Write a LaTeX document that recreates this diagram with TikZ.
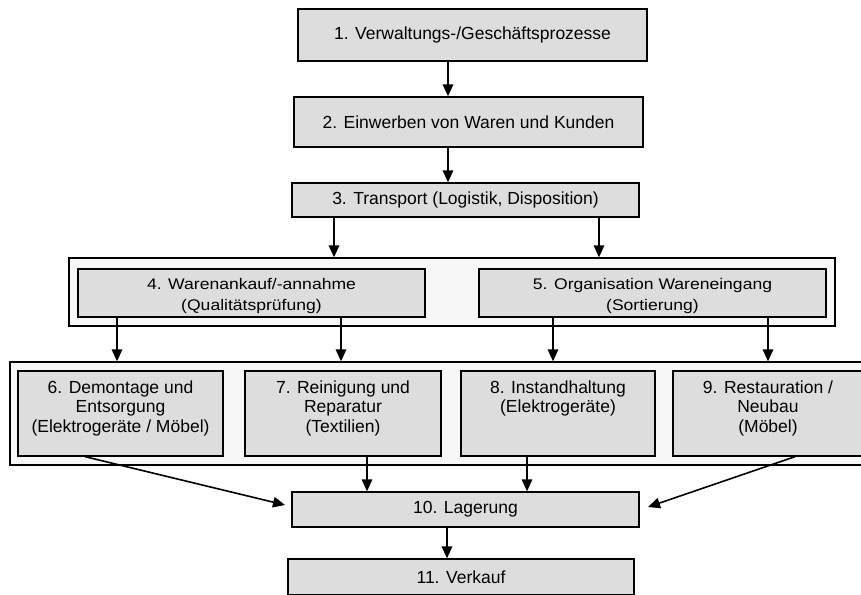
\documentclass[tikz,border=0pt]{standalone}
\usepackage{fontspec}
\setmainfont{Liberation Sans}
\newfontfamily\widesf[FakeStretch=1.14]{Liberation Sans}
\usetikzlibrary{arrows.meta}
\definecolor{boxfill}{HTML}{DDDDDD}
\definecolor{grpfill}{HTML}{F7F7F7}
\begin{document}
\begin{tikzpicture}[x=1pt,y=-1pt,
  box/.style={draw=black, line width=1.3pt, fill=boxfill, rectangle, inner sep=0pt,
    font=\fontsize{17.5}{19.5}\selectfont},
  grp/.style={draw=black, line width=1.3pt, fill=grpfill, rectangle, inner sep=0pt},
  bigtxt/.style={inner sep=0pt, align=center, anchor=north, font=\fontsize{17.5}{19.5}\selectfont},
  midtxt/.style={inner sep=0pt, align=center, anchor=north, font=\widesf\fontsize{15.4}{21}\selectfont},
  arr/.style={line width=1.6pt, -{Triangle[width=10.5pt,length=12pt]}}]
\useasboundingbox (0,0) rectangle (861,594);

% top chain
\node[box, minimum width=349pt, minimum height=52pt] (b1) at (472.5,35) {1. Verwaltungs-/Geschäftsprozesse};
\node[box, minimum width=349pt, minimum height=50pt] (b2) at (468.5,122) {2. Einwerben von Waren und Kunden};
\node[box, minimum width=347pt, minimum height=34pt] (b3) at (465.5,200) {3. Transport (Logistik, Disposition)};

% group 1
\node[grp, minimum width=766pt, minimum height=68pt] (g1) at (452,292) {};
\node[box, minimum width=347pt, minimum height=48pt] (b4) at (251.5,293) {};
\node[box, minimum width=347pt, minimum height=48pt] (b5) at (652.5,293) {};
\begin{scope}
  \clip ([xshift=0.65pt,yshift=4.5pt]b4.south west) rectangle ([xshift=-0.65pt,yshift=-0.65pt]b4.north east);
  \node[midtxt] (t4) at ([yshift=-10pt]b4.north) {4. Warenankauf/-annahme\\(Qualitätsprüfung)};
\end{scope}
\begin{scope}
  \clip ([xshift=0.65pt,yshift=4.5pt]b5.south west) rectangle ([xshift=-0.65pt,yshift=-0.65pt]b5.north east);
  \node[midtxt] (t5) at ([yshift=-10pt]b5.north) {5. Organisation Wareneingang\\(Sortierung)};
\end{scope}

% group 2
\node[grp, minimum width=861pt, minimum height=103pt] (g2) at (440.5,413.5) {};
\node[box, minimum width=205pt, minimum height=85pt] (b6) at (120.5,413.5) {};
\node[box, minimum width=196pt, minimum height=85pt] (b7) at (343,413.5) {};
\node[box, minimum width=194pt, minimum height=85pt] (b8) at (558,413.5) {};
\node[box, minimum width=190pt, minimum height=85pt] (b9) at (768,413.5) {};
\node[bigtxt] (t6) at ([yshift=-10pt]b6.north) {6. Demontage und\\Entsorgung\\(Elektrogeräte / Möbel)};
\node[bigtxt] (t7) at ([yshift=-10pt]b7.north) {7. Reinigung und\\Reparatur\\(Textilien)};
\node[bigtxt] (t8) at ([yshift=-10pt]b8.north) {8. Instandhaltung\\(Elektrogeräte)};
\node[bigtxt] (t9) at ([yshift=-10pt]b9.north) {9. Restauration /\\Neubau\\(Möbel)};

% bottom
\node[box, minimum width=347pt, minimum height=35pt] (b10) at (465.5,509.5) {10. Lagerung};
\node[box, minimum width=346pt, minimum height=36pt] (b11) at (461,577) {11. Verkauf};

% x positions of connectors
\coordinate (xa) at (448,0);
\coordinate (x3l) at (334,0);
\coordinate (x3r) at (599,0);
\coordinate (x4l) at (117,0);
\coordinate (x4r) at (341,0);
\coordinate (x5l) at (553,0);
\coordinate (x5r) at (768,0);
\coordinate (x6) at (85,0);
\coordinate (x7) at (367,0);
\coordinate (x8) at (527,0);
\coordinate (x9) at (795,0);
\coordinate (x10) at (447,0);
\coordinate (in6) at (285,505);
\coordinate (in9) at (648,507);

\draw[arr] (b1.south -| xa) -- (b2.north -| xa);
\draw[arr] (b2.south -| xa) -- (b3.north -| xa);
\draw[arr] (b3.south -| x3l) -- (g1.north -| x3l);
\draw[arr] (b3.south -| x3r) -- (g1.north -| x3r);
\draw[arr] (b4.south -| x4l) -- (g2.north -| x4l);
\draw[arr] (b4.south -| x4r) -- (g2.north -| x4r);
\draw[arr] (b5.south -| x5l) -- (g2.north -| x5l);
\draw[arr] (b5.south -| x5r) -- (g2.north -| x5r);
\draw[arr] (b6.south -| x6) -- (in6);
\draw[arr] (b7.south -| x7) -- (b10.north -| x7);
\draw[arr] (b8.south -| x8) -- (b10.north -| x8);
\draw[arr] (b9.south -| x9) -- (in9);
\draw[arr] (b10.south -| x10) -- (b11.north -| x10);
\end{tikzpicture}
\end{document}
